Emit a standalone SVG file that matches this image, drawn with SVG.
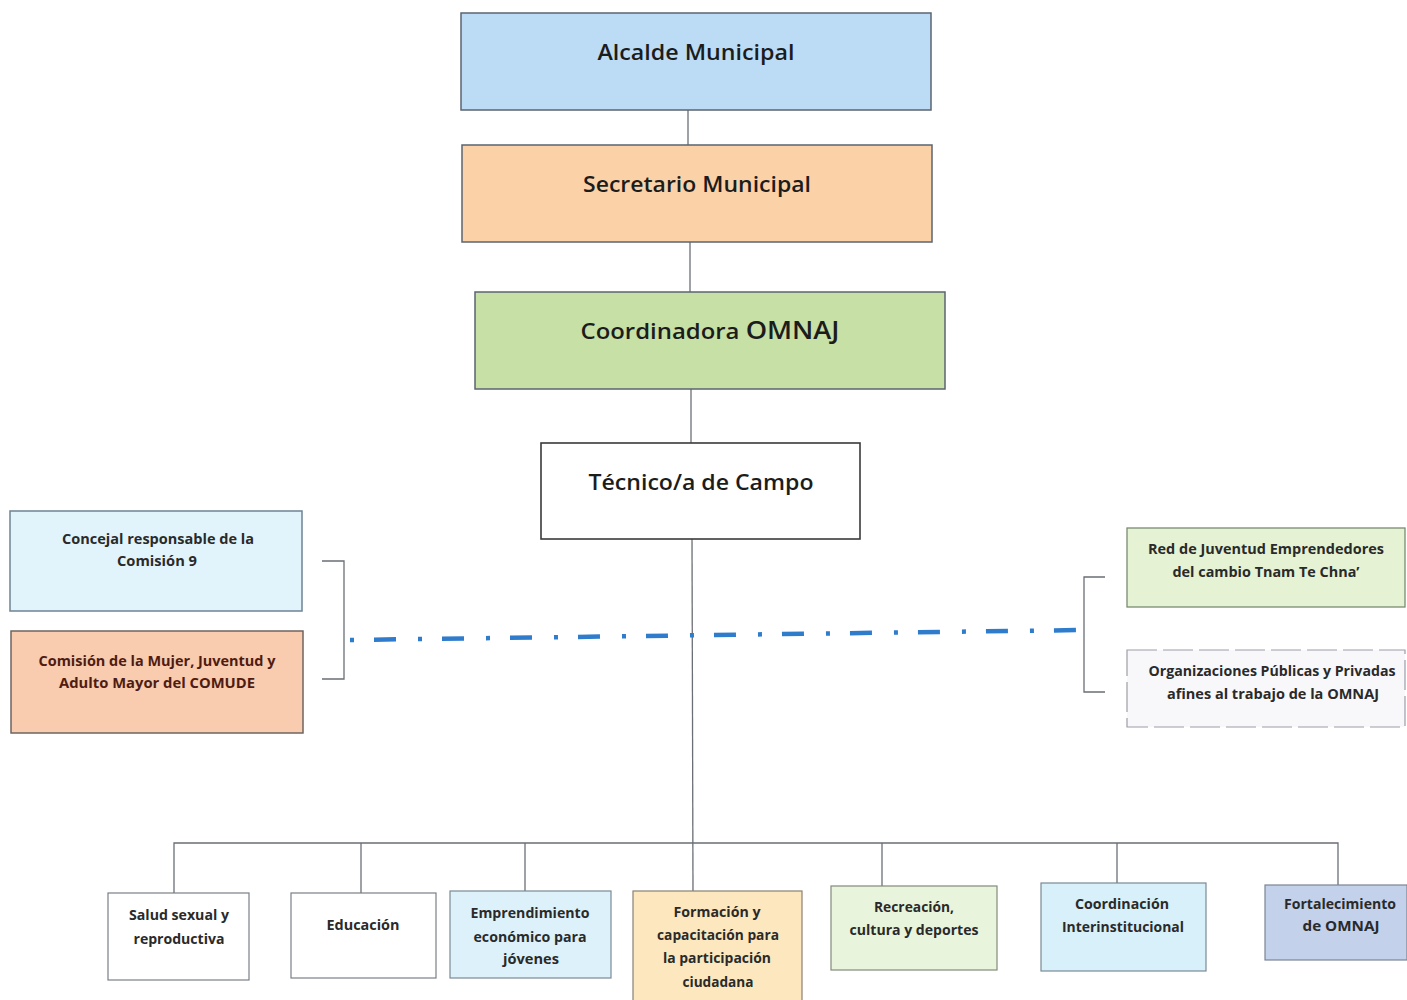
<svg xmlns="http://www.w3.org/2000/svg" width="1407" height="1000" viewBox="0 0 1407 1000">
<style>
  .box { stroke: #5b6470; stroke-width: 1.5; }
  .conn { stroke: #6a6f75; stroke-width: 1.3; fill: none; }
  .big { font-family: "Open Sans", "Noto Sans", "DejaVu Sans", sans-serif; font-size: 22px; font-weight: 600; fill: #1c1c1c; text-anchor: middle; }
  .sm { font-family: "Open Sans", "Noto Sans", "DejaVu Sans", sans-serif; font-size: 13.5px; font-weight: 700; fill: #2a2a2a; text-anchor: middle; }
  .brown { fill: #4e1c12; }
  .dashblue { stroke: #2f7ccc; stroke-width: 4.5; fill: none; stroke-dasharray: 4 20 22 22; }
</style>
<rect width="1407" height="1000" fill="#ffffff"/>

<g id="connectors">
  <line class="conn" x1="688" y1="110" x2="688" y2="145"/>
  <line class="conn" x1="690" y1="242" x2="690" y2="292"/>
  <line class="conn" x1="691" y1="389" x2="691" y2="443"/>
  <line class="conn" x1="692" y1="539" x2="693" y2="891"/>
  <polyline class="conn" points="174,893 174,843 1338,843 1338,885"/>
  <line class="conn" x1="361" y1="843" x2="361" y2="893"/>
  <line class="conn" x1="525" y1="843" x2="525" y2="891"/>
  <line class="conn" x1="882" y1="843" x2="882" y2="886"/>
  <line class="conn" x1="1117" y1="843" x2="1117" y2="883"/>
  <polyline class="conn" points="322,561 344,561 344,679 322,679"/>
  <polyline class="conn" points="1105,577 1084,577 1084,692 1105,692"/>
  <line class="dashblue" x1="350" y1="640" x2="1082" y2="630"/>
</g>

<g id="alcalde">
  <rect class="box" x="461" y="13" width="470" height="97" fill="#bcdcf5"/>
  <text class="big" x="696" y="60" textLength="197" lengthAdjust="spacingAndGlyphs">Alcalde Municipal</text>
</g>
<g id="secretario">
  <rect class="box" x="462" y="145" width="470" height="97" fill="#fbd2a8"/>
  <text class="big" x="697" y="192" textLength="228" lengthAdjust="spacingAndGlyphs">Secretario Municipal</text>
</g>
<g id="coordinadora">
  <rect class="box" x="475" y="292" width="470" height="97" fill="#c6e0a6"/>
  <text class="big" x="710" y="339" textLength="259" lengthAdjust="spacingAndGlyphs">Coordinadora <tspan font-size="25">OMNAJ</tspan></text>
</g>
<g id="tecnico">
  <rect x="541" y="443" width="319" height="96" fill="#ffffff" stroke="#3a3a3a" stroke-width="1.6"/>
  <text class="big" x="701" y="490" textLength="225" lengthAdjust="spacingAndGlyphs">Técnico/a de Campo</text>
</g>

<g id="concejal">
  <rect x="10" y="511" width="292" height="100" fill="#e2f4fb" stroke="#6e8494" stroke-width="1.5"/>
  <text class="sm" x="158" y="544" textLength="192" lengthAdjust="spacingAndGlyphs">Concejal responsable de la</text>
  <text class="sm" x="157" y="566" textLength="80" lengthAdjust="spacingAndGlyphs">Comisión 9</text>
</g>
<g id="comision">
  <rect x="11" y="631" width="292" height="102" fill="#f9cbaf" stroke="#6e6460" stroke-width="1.5"/>
  <text class="sm brown" x="157" y="666" textLength="237" lengthAdjust="spacingAndGlyphs">Comisión de la Mujer, Juventud y</text>
  <text class="sm brown" x="157" y="688" textLength="196" lengthAdjust="spacingAndGlyphs">Adulto Mayor del COMUDE</text>
</g>

<g id="red">
  <rect x="1127" y="528" width="278" height="79" fill="#e5f2d3" stroke="#7a8a70" stroke-width="1.3"/>
  <text class="sm" x="1266" y="554" textLength="236" lengthAdjust="spacingAndGlyphs">Red de Juventud Emprendedores</text>
  <text class="sm" x="1266" y="577" textLength="187" lengthAdjust="spacingAndGlyphs">del cambio Tnam Te Chna’</text>
</g>
<g id="organizaciones">
  <rect x="1127" y="650" width="278" height="77" fill="#f8f8fb" stroke="#9a9ea6" stroke-width="1.2" stroke-dasharray="30 6"/>
  <text class="sm" x="1272" y="676" textLength="247" lengthAdjust="spacingAndGlyphs">Organizaciones Públicas y Privadas</text>
  <text class="sm" x="1273" y="699" textLength="212" lengthAdjust="spacingAndGlyphs">afines al trabajo de la OMNAJ</text>
</g>

<g id="salud">
  <rect x="108" y="893" width="141" height="87" fill="#ffffff" stroke="#7a7f85" stroke-width="1.2"/>
  <text class="sm" x="179" y="920" textLength="100" lengthAdjust="spacingAndGlyphs">Salud sexual y</text>
  <text class="sm" x="179" y="944" textLength="91" lengthAdjust="spacingAndGlyphs">reproductiva</text>
</g>
<g id="educacion">
  <rect x="291" y="893" width="145" height="85" fill="#ffffff" stroke="#7a7f85" stroke-width="1.2"/>
  <text class="sm" x="363" y="930" textLength="73" lengthAdjust="spacingAndGlyphs">Educación</text>
</g>
<g id="emprendimiento">
  <rect x="450" y="891" width="161" height="87" fill="#ddf1fa" stroke="#7a8a95" stroke-width="1.2"/>
  <text class="sm" x="530" y="918" textLength="119" lengthAdjust="spacingAndGlyphs">Emprendimiento</text>
  <text class="sm" x="530" y="942" textLength="113" lengthAdjust="spacingAndGlyphs">económico para</text>
  <text class="sm" x="531" y="964" textLength="56" lengthAdjust="spacingAndGlyphs">jóvenes</text>
</g>
<g id="formacion">
  <rect x="633" y="891" width="169" height="112" fill="#fde7be" stroke="#8a8270" stroke-width="1.2"/>
  <text class="sm" x="717" y="917" textLength="87" lengthAdjust="spacingAndGlyphs">Formación y</text>
  <text class="sm" x="718" y="940" textLength="122" lengthAdjust="spacingAndGlyphs">capacitación para</text>
  <text class="sm" x="717" y="963" textLength="108" lengthAdjust="spacingAndGlyphs">la participación</text>
  <text class="sm" x="718" y="987" textLength="71" lengthAdjust="spacingAndGlyphs">ciudadana</text>
</g>
<g id="recreacion">
  <rect x="831" y="886" width="166" height="84" fill="#e9f4dc" stroke="#828a7a" stroke-width="1.2"/>
  <text class="sm" x="914" y="912" textLength="80" lengthAdjust="spacingAndGlyphs">Recreación,</text>
  <text class="sm" x="914" y="935" textLength="129" lengthAdjust="spacingAndGlyphs">cultura y deportes</text>
</g>
<g id="coordinacion">
  <rect x="1041" y="883" width="165" height="88" fill="#d7f0f9" stroke="#7a8a95" stroke-width="1.2"/>
  <text class="sm" x="1122" y="909" textLength="94" lengthAdjust="spacingAndGlyphs">Coordinación</text>
  <text class="sm" x="1123" y="932" textLength="122" lengthAdjust="spacingAndGlyphs">Interinstitucional</text>
</g>
<g id="fortalecimiento">
  <rect x="1265" y="885" width="142" height="75" fill="#c3d1ea" stroke="#7a8595" stroke-width="1.2"/>
  <text class="sm" x="1340" y="909" textLength="112" lengthAdjust="spacingAndGlyphs">Fortalecimiento</text>
  <text class="sm" x="1341" y="931" textLength="77" lengthAdjust="spacingAndGlyphs">de OMNAJ</text>
</g>
</svg>
